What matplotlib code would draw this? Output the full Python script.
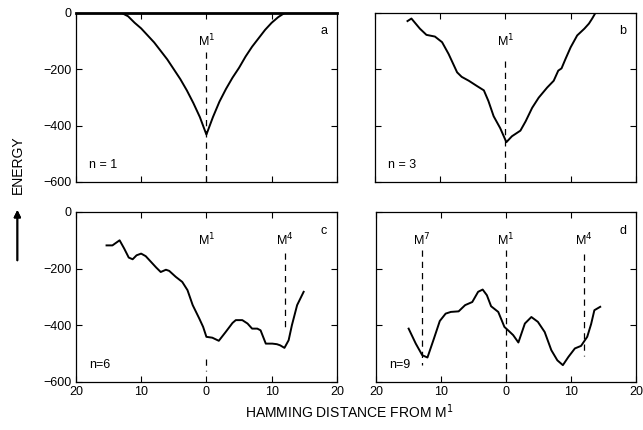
"""Energy landscapes along Hamming distance from the stored pattern M1."""

import matplotlib.pyplot as plt
from matplotlib.ticker import FuncFormatter

plt.rcParams["font.family"] = ["Liberation Sans", "DejaVu Sans"]

# panel a, n = 1
x_a = [-20, -13, -12, -11, -10, -9, -8, -7, -6, -5, -4, -3, -2, -1, 0,
       1, 2, 3, 4, 5, 6, 7, 8, 9, 10, 11, 12, 20]
e_a = [0, 0, -12, -35, -55, -80, -105, -135, -165, -200, -235, -275, -320, -370, -432,
       -370, -315, -270, -230, -195, -155, -120, -90, -60, -35, -15, 0, 0]

# panel b, n = 3
x_b = [-15.0, -14.4, -13.1, -12.1, -10.8, -9.7, -8.7, -7.4, -6.7, -5.6, -4.4, -3.3,
       -2.6, -1.8, -0.8, 0.15, 1.0, 2.3, 3.1, 4.1, 5.1, 6.4, 7.4, 8.1, 8.6, 9.2,
       10.0, 11.0, 12.1, 12.8, 13.3, 13.8]
e_b = [-29, -20, -56, -78, -84, -104, -146, -211, -227, -241, -259, -275,
       -313, -367, -409, -459, -438, -418, -385, -337, -301, -265, -241, -205, -197, -164,
       -122, -80, -56, -38, -20, 0]

# panel c, n = 6
x_c = [-15.3, -14.4, -13.3, -12.6, -11.9, -11.3, -10.7, -10.0, -9.3, -8.5, -7.7, -7.0,
       -6.2, -5.7, -4.7, -3.7, -2.9, -2.1, -1.1, -0.5, 0.0, 0.9, 1.9, 2.95, 4.0, 4.5,
       5.5, 6.3, 7.0, 7.8, 8.3, 9.1, 10.1, 10.8, 11.3, 11.96, 12.6, 13.1, 13.9, 14.9]
e_c = [-118, -118, -100, -129, -161, -167, -153, -147, -156, -176, -196, -212,
       -204, -208, -229, -247, -276, -329, -376, -406, -441, -444, -455, -424, -392, -382,
       -382, -394, -412, -412, -418, -465, -465, -467, -471, -480, -453, -400, -329, -282]

# panel d, n = 9
x_d = [-15.0, -13.9, -12.9, -12.1, -11.1, -10.2, -9.3, -8.5, -7.3, -6.3, -5.2, -4.3,
       -3.6, -2.95, -2.3, -1.2, -0.25, 0.46, 1.1, 1.9, 2.9, 3.9, 4.9, 5.95, 6.97, 7.9,
       8.75, 9.6, 10.6, 11.55, 12.5, 13.1, 13.6, 14.5]
e_d = [-412, -465, -506, -514, -447, -385, -359, -353, -351, -329, -318, -282,
       -274, -294, -333, -353, -406, -421, -435, -461, -394, -371, -388, -424, -488, -524,
       -541, -512, -482, -473, -441, -396, -347, -335]

# stored patterns marked in each panel: (name, position, top, bottom)
marks_a = [("1", 0, -140, -600)]
marks_b = [("1", 0, -170, -600)]
marks_c = [("1", 0, -520, -560), ("4", 12, -145, -422)]
marks_d = [("7", -13, -135, -540), ("1", 0, -135, -600), ("4", 12, -150, -510)]

fig = plt.figure(figsize=(6.43, 4.30), dpi=100)

panels = [
    ([0.118, 0.577, 0.406, 0.393], x_a, e_a, marks_a, "a", "n = 1"),
    ([0.583, 0.577, 0.406, 0.393], x_b, e_b, marks_b, "b", "n = 3"),
    ([0.118, 0.112, 0.406, 0.395], x_c, e_c, marks_c, "c", "n=6"),
    ([0.585, 0.112, 0.404, 0.395], x_d, e_d, marks_d, "d", "n=9"),
]

for i, (pos, xs, es, marks, letter, nlabel) in enumerate(panels):
    ax = fig.add_axes(pos)
    ax.plot(xs, es, color="black", lw=1.4, clip_on=True)
    for name, xm, top, bottom in marks:
        ax.plot([xm, xm], [top, bottom], color="black", lw=0.9, ls=(0, (5, 4)))
        ax.text(xm, -100, "M$^{%s}$" % name, ha="center", va="center", fontsize=9)
    ax.set_xlim(-20, 20)
    ax.set_ylim(-600, 0)
    ax.set_xticks([-20, -10, 0, 10, 20])
    ax.set_yticks([0, -200, -400, -600])
    ax.xaxis.set_major_formatter(FuncFormatter(lambda v, p: "%d" % abs(v)))
    ax.yaxis.set_major_formatter(FuncFormatter(lambda v, p: "%d" % v if v == 0 else "\u2212%d" % abs(v)))
    ax.tick_params(direction="in", top=True, right=True, length=4, width=0.8,
                   labelsize=9, pad=3)
    if i % 2 == 1:
        ax.tick_params(labelleft=False)
    if i < 2:
        ax.tick_params(labelbottom=False)
    for s in ax.spines.values():
        s.set_linewidth(0.9)
    if i == 0:
        ax.spines["top"].set_linewidth(2.0)
    ax.text(0.95, 0.89, letter, transform=ax.transAxes, ha="center", va="center", fontsize=9)
    ax.text(0.05, 0.1, nlabel, transform=ax.transAxes, ha="left", va="center", fontsize=9)

fig.text(0.028, 0.616, "ENERGY", rotation=90, ha="center", va="center", fontsize=10)
fig.add_artist(plt.annotate("", xy=(0.027, 0.518), xytext=(0.027, 0.388),
                            xycoords="figure fraction",
                            arrowprops=dict(arrowstyle="-|>", color="black", lw=1.3,
                                            mutation_scale=10)))
fig.text(0.543, 0.042, "HAMMING DISTANCE FROM M$^{1}$", ha="center", va="center", fontsize=10)

fig.savefig("out.png", dpi=100)
